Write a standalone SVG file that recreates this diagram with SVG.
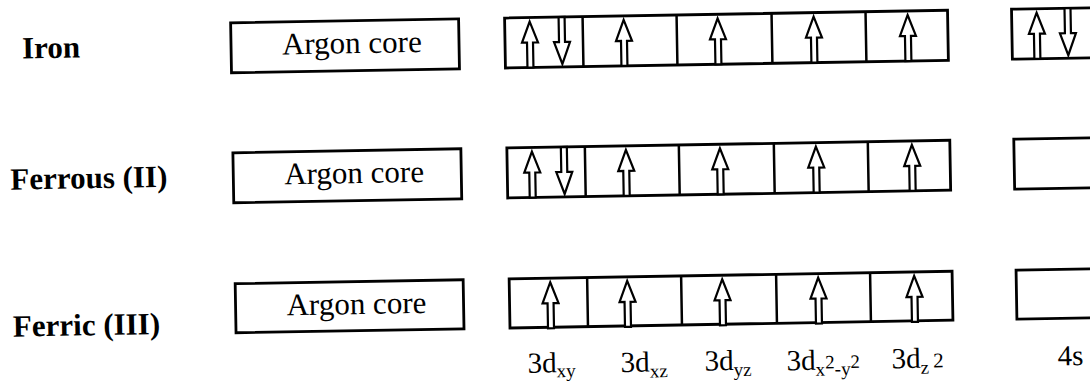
<svg xmlns="http://www.w3.org/2000/svg" xmlns:xlink="http://www.w3.org/1999/xlink" width="1090" height="383" viewBox="0 0 1090 383">
<style>
.box{fill:#fff;stroke:#000;stroke-width:2.8}
.div{stroke:#000;stroke-width:2.5}
.arr{fill:#fff;stroke:#000;stroke-width:2.2;stroke-linejoin:miter}
.lbl{font-family:"Liberation Serif","Times New Roman",serif;font-weight:bold;font-size:31px;fill:#000}
.core{font-family:"Liberation Serif","Times New Roman",serif;font-size:31px;fill:#000}
.orb{font-family:"Liberation Serif","Times New Roman",serif;font-size:29px;fill:#000}
.sub{font-size:19px}
</style>
<defs>
<polygon id="up" class="arr" points="0,0 8,21 3,21 3,46 -3,46 -3,21 -8,21"/>
<polygon id="dn" class="arr" points="-3,0 3,0 3,25 8,25 0,47 -8,25 -3,25"/>
</defs>
<rect width="1090" height="383" fill="#fff"/>
<g transform="rotate(-1 505 42)">
<g id="iron">
<text class="lbl" x="22" y="50">Iron</text>
<rect class="box" x="231" y="18" width="228" height="50"/>
<text class="core" x="282" y="50.5">Argon core</text>
<rect class="box" x="505" y="18" width="443" height="50"/>
<path class="div" d="M583 18V68M677 18V68M772 18V68M866 18V68"/>
<use xlink:href="#up" x="530" y="22"/>
<use xlink:href="#dn" x="562" y="18"/>
<use xlink:href="#up" x="624" y="22"/>
<use xlink:href="#up" x="718" y="22"/>
<use xlink:href="#up" x="814" y="22"/>
<use xlink:href="#up" x="908" y="22"/>
<rect class="box" x="1012" y="18" width="92" height="50"/>
<use xlink:href="#up" x="1037" y="22"/>
<use xlink:href="#dn" x="1068" y="18"/>
</g>
<g id="ferrous">
<text class="lbl" x="8" y="181">Ferrous (II)</text>
<rect class="box" x="231" y="148" width="228" height="50"/>
<text class="core" x="282" y="180.5">Argon core</text>
<rect class="box" x="505" y="148" width="443" height="50"/>
<path class="div" d="M583 148V198M677 148V198M772 148V198M866 148V198"/>
<use xlink:href="#up" x="530" y="152"/>
<use xlink:href="#dn" x="562" y="148"/>
<use xlink:href="#up" x="624" y="152"/>
<use xlink:href="#up" x="718" y="152"/>
<use xlink:href="#up" x="814" y="152"/>
<use xlink:href="#up" x="910" y="152"/>
<rect class="box" x="1012" y="148" width="92" height="50"/>
</g>
<g id="ferric">
<text class="lbl" x="8" y="328">Ferric (III)</text>
<rect class="box" x="231" y="279" width="228" height="49"/>
<text class="core" x="282" y="311.5">Argon core</text>
<rect class="box" x="505" y="279" width="443" height="49"/>
<path class="div" d="M583 279V328M677 279V328M772 279V328M866 279V328"/>
<use xlink:href="#up" x="546" y="283"/>
<use xlink:href="#up" x="623" y="283"/>
<use xlink:href="#up" x="718" y="283"/>
<use xlink:href="#up" x="814" y="283"/>
<use xlink:href="#up" x="910" y="283"/>
<rect class="box" x="1012" y="279" width="92" height="49"/>
</g>
<g id="orbital-labels">
<text class="orb" x="522" y="373">3d<tspan class="sub" dy="5">xy</tspan></text>
<text class="orb" x="615" y="374">3d<tspan class="sub" dy="6">xz</tspan></text>
<text class="orb" x="699" y="374">3d<tspan class="sub" dy="6">yz</tspan></text>
<text class="orb" x="781" y="375">3d<tspan class="sub" dy="6">x</tspan><tspan class="sub" dy="-7">2</tspan><tspan class="sub" dy="7">-y</tspan><tspan class="sub" dy="-7">2</tspan></text>
<text class="orb" x="886" y="375">3d<tspan class="sub" dy="6">z</tspan><tspan font-size="21" dx="4" dy="-6">2</tspan></text>
<text class="orb" x="1052" y="375">4s</text>
</g>
</g>
</svg>
